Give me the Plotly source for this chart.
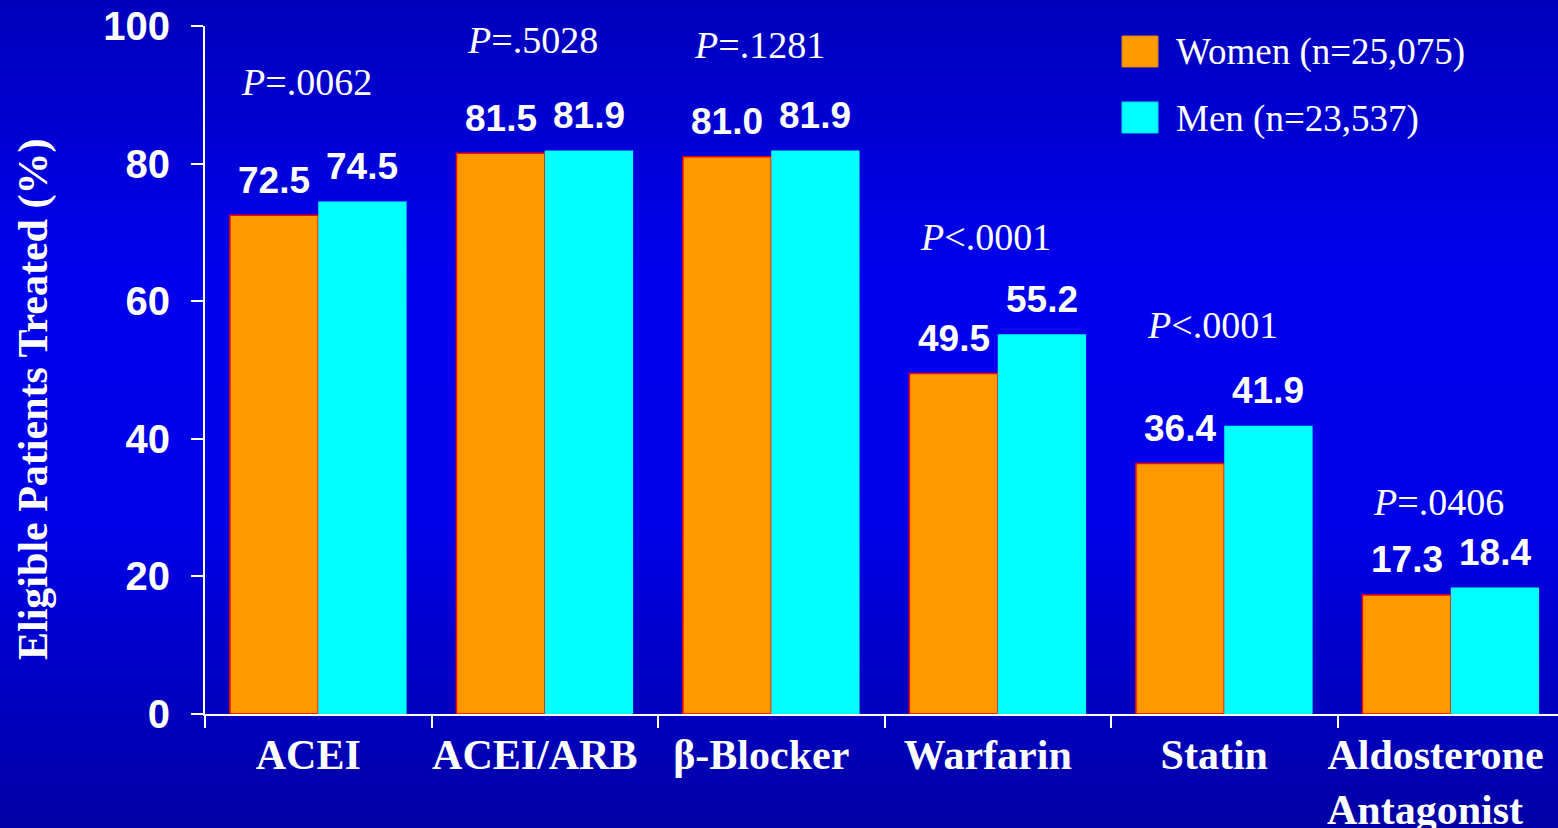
import plotly.graph_objects as go

categories = ["ACEI", "ACEI/ARB", "β-Blocker", "Warfarin", "Statin", "Aldosterone<br>Antagonist"]
women = [72.5, 81.5, 81.0, 49.5, 36.4, 17.3]
men = [74.5, 81.9, 81.9, 55.2, 41.9, 18.4]
p_values = ["=.0062", "=.5028", "=.1281", "<.0001", "<.0001", "=.0406"]
y_ticks = [0, 20, 40, 60, 80, 100]
women_label = "Women (n=25,075)"
men_label = "Men (n=23,537)"

# tick text (last label shifted left with padding, as in the original slide)
tick_text = ["ACEI", "ACEI/ARB", "β-Blocker", "Warfarin", "Statin",
             "Aldosterone&nbsp;<br>Antagonist&nbsp;&nbsp;&nbsp;"]

# layout constants (pixels)
W, H = 1558, 828
L, T, B = 205, 26, 114
PW, PH = W - L, H - T - B
CAT_PX = 226.5
BARGAP = 0.22
p_label_y = [91.9, 98.0, 97.2, 69.3, 56.5, 30.8]  # annotation placement (data units)

def px_to_paper_x(px):
    return (px - L) / PW

def py_to_paper_y(py):
    return (H - B - py) / PH

WHITE = "#FFFFFF"
ORANGE = "#FF9900"
CYAN = "#00FFFF"

fig = go.Figure()
fig.add_trace(go.Bar(x=categories, y=women, name=women_label,
                     marker=dict(color=ORANGE, line=dict(color="#FF0000", width=1.5))))
fig.add_trace(go.Bar(x=categories, y=men, name=men_label,
                     marker=dict(color=CYAN, line=dict(width=0))))

# background gradient
def bg_color(py):
    pts = [(0, 188), (280, 238), (520, 232), (828, 165)]
    for (a, ca), (b, cb) in zip(pts[:-1], pts[1:]):
        if a <= py <= b:
            v = ca + (cb - ca) * (py - a) / (b - a)
            return f"rgb(0,0,{int(round(v))})"
    return "rgb(0,0,200)"

shapes = []
step = 4
for py in range(0, H, step):
    shapes.append(dict(type="rect", xref="paper", yref="paper", layer="below",
                       x0=px_to_paper_x(0), x1=px_to_paper_x(W),
                       y0=py_to_paper_y(py + step + 0.5), y1=py_to_paper_y(py),
                       fillcolor=bg_color(py + step / 2), line=dict(width=0)))

# legend squares
shapes.append(dict(type="rect", xref="paper", yref="paper",
                   x0=px_to_paper_x(1122), x1=px_to_paper_x(1158),
                   y0=py_to_paper_y(67), y1=py_to_paper_y(36),
                   fillcolor=ORANGE, line=dict(color="#E08000", width=1)))
shapes.append(dict(type="rect", xref="paper", yref="paper",
                   x0=px_to_paper_x(1122), x1=px_to_paper_x(1158),
                   y0=py_to_paper_y(133), y1=py_to_paper_y(102),
                   fillcolor=CYAN, line=dict(color="#00E0E0", width=1)))

annotations = []
bar_off = (1 - BARGAP) / 4 * CAT_PX
for c, wv, mv, pv, py in zip(categories, women, men, p_values, p_label_y):
    for v, sh in ((wv, -bar_off), (mv, bar_off)):
        annotations.append(dict(x=c, y=v, xref="x", yref="y", text=f"{v:.1f}",
                                showarrow=False, xshift=sh, yshift=35, yanchor="middle",
                                font=dict(family="Liberation Sans", size=37, color=WHITE, weight="bold")))
    annotations.append(dict(x=c, y=py, xref="x", yref="y",
                            text=f"<i>P</i>{pv.replace('<', '&lt;')}",
                            showarrow=False, xshift=-12, yanchor="middle",
                            font=dict(family="Liberation Serif", size=38, color=WHITE)))

annotations.append(dict(x=px_to_paper_x(1174), y=py_to_paper_y(52), xref="paper", yref="paper",
                        text=women_label, showarrow=False, xanchor="left", yanchor="middle",
                        font=dict(family="Liberation Serif", size=37, color=WHITE)))
annotations.append(dict(x=px_to_paper_x(1174), y=py_to_paper_y(119), xref="paper", yref="paper",
                        text=men_label, showarrow=False, xanchor="left", yanchor="middle",
                        font=dict(family="Liberation Serif", size=37, color=WHITE)))
annotations.append(dict(x=px_to_paper_x(33), y=py_to_paper_y(400), xref="paper", yref="paper",
                        text="Eligible Patients Treated (%)", showarrow=False, textangle=-90,
                        xanchor="center", yanchor="middle",
                        font=dict(family="Liberation Serif", size=42, color=WHITE, weight="bold")))

fig.update_layout(
    width=W, height=H,
    margin=dict(l=L, r=0, t=T, b=B, autoexpand=False),
    paper_bgcolor="#0000D0", plot_bgcolor="rgba(0,0,0,0)",
    barmode="group", bargap=BARGAP, bargroupgap=0,
    showlegend=False,
    shapes=shapes, annotations=annotations,
    xaxis=dict(type="category", range=[-0.5, -0.5 + PW / CAT_PX],
               tickmode="array", tickvals=categories, ticktext=tick_text, tickangle=0,
               showline=True, linecolor=WHITE, linewidth=2,
               ticks="outside", tickson="boundaries", ticklen=12, tickwidth=2, tickcolor=WHITE,
               showgrid=False, zeroline=False, ticklabelshift=-10, ticklabelstandoff=3,
               tickfont=dict(family="Liberation Serif", size=42, color=WHITE, weight="bold")),
    yaxis=dict(range=[0, 100], tickvals=y_ticks,
               showline=True, linecolor=WHITE, linewidth=2,
               ticks="outside", ticklen=12, tickwidth=2, tickcolor=WHITE,
               showgrid=False, zeroline=False, ticklabelstandoff=13,
               tickfont=dict(family="Liberation Sans", size=40, color=WHITE, weight="bold")),
)

fig.write_html("out.html")
